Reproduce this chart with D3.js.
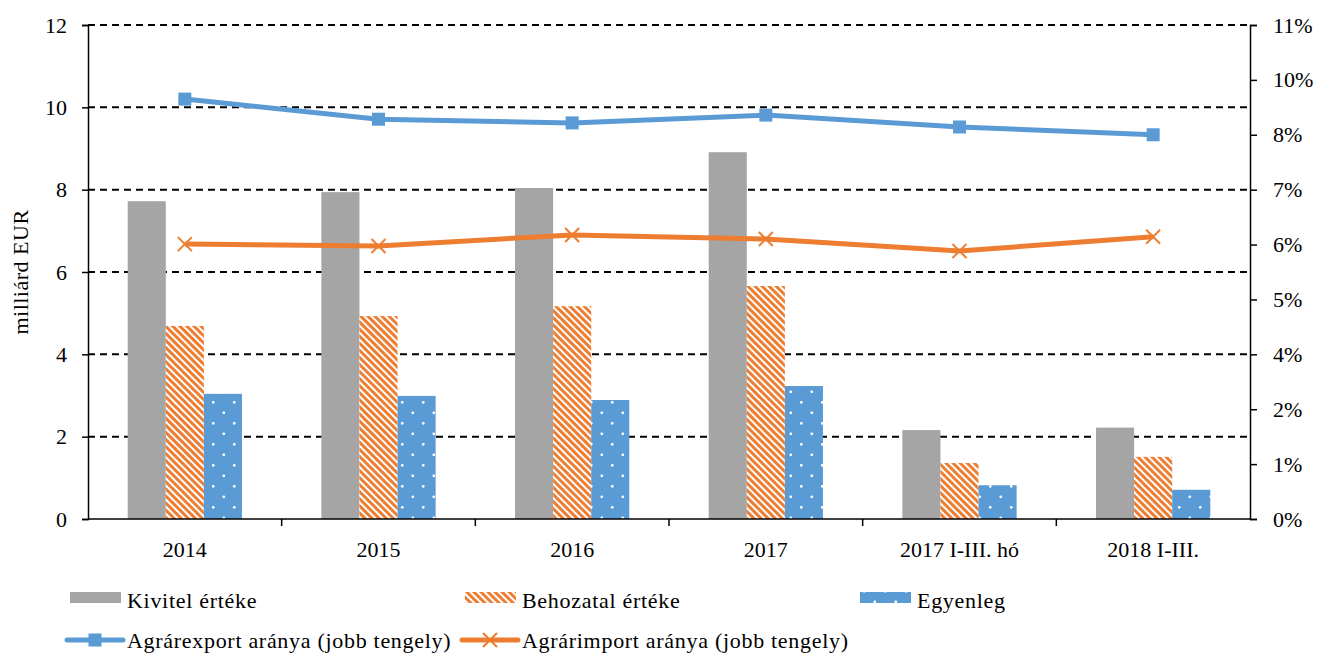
<!DOCTYPE html>
<html>
<head>
<meta charset="utf-8">
<script src="https://cdn.jsdelivr.net/npm/d3@7"></script>
<style>
  body { margin: 0; background: #fff; }
  svg text { font-family: "Liberation Serif", "Times New Roman", serif; fill: #000; }
</style>
</head>
<body>
<div id="chart"></div>
<script>
//data
let categories = ['2014', '2015', '2016', '2017', '2017 I-III. hó', '2018 I-III.'];
let kivitel = [7.72, 7.94, 8.04, 8.91, 2.16, 2.22];
let behozatal = [4.69, 4.93, 5.17, 5.66, 1.36, 1.51];
let egyenleg = [3.04, 2.99, 2.89, 3.23, 0.82, 0.71];
let exportShare = [0.0918, 0.0874, 0.0866, 0.0883, 0.0857, 0.0840];
let importShare = [0.0601, 0.0597, 0.0621, 0.0612, 0.0586, 0.0617];
let leftTicks = [0, 2, 4, 6, 8, 10, 12];
let rightTicks = [0, 0.012, 0.024, 0.036, 0.048, 0.060, 0.072, 0.084, 0.096, 0.108];

let barSeries = ['Kivitel értéke', 'Behozatal értéke', 'Egyenleg'];
let lineSeries = ['Agrárexport aránya (jobb tengely)', 'Agrárimport aránya (jobb tengely)'];

let w = 1317;
let h = 655;
let plotLeft = 88, plotRight = 1250, plotTop = 25, plotBottom = 519;
let fontSize = 22;

let gray = '#a5a5a5';
let orange = '#ed7d31';
let blue = '#5b9bd5';

let svg = d3.select('#chart').
append('svg').
attr('width', w).
attr('height', h);

//patterns
let defs = svg.append('defs');
let stripes = defs.append('pattern').
attr('id', 'stripes').
attr('patternUnits', 'userSpaceOnUse').
attr('width', 5).
attr('height', 5).
attr('patternTransform', 'rotate(-45)');
stripes.append('rect').attr('width', 5).attr('height', 5).attr('fill', '#fff');
stripes.append('rect').attr('width', 3).attr('height', 5).attr('fill', orange);

let dots = defs.append('pattern').
attr('id', 'dots').
attr('patternUnits', 'userSpaceOnUse').
attr('x', 3).
attr('y', 3).
attr('width', 21).
attr('height', 21);
dots.append('rect').attr('width', 21).attr('height', 21).attr('fill', blue);
[[0.3, 0.3], [21.3, 0.3], [0.3, 21.3], [21.3, 21.3], [10.8, 10.8]].forEach(p => {
  dots.append('circle').attr('cx', p[0]).attr('cy', p[1]).attr('r', 1.4).attr('fill', '#fff');
});

let fills = [gray, 'url(#stripes)', 'url(#dots)'];
let seriesValues = [kivitel, behozatal, egyenleg];

//scales
let xScale = d3.scaleBand().
domain(categories).
range([plotLeft, plotRight]).
paddingInner(0.41).
paddingOuter(0.205);

let xSub = d3.scaleBand().
domain(d3.range(barSeries.length)).
range([0, xScale.bandwidth()]);

let yLeft = d3.scaleLinear().
domain([0, 12]).
range([plotBottom, plotTop]);

let yRight = d3.scaleLinear().
domain([0, 0.108]).
range([plotBottom, plotTop]);

//gridlines
svg.append('g').
selectAll('line').
data(leftTicks.filter(d => d > 0)).
enter().
append('line').
attr('x1', plotLeft).
attr('x2', plotRight).
attr('y1', d => yLeft(d)).
attr('y2', d => yLeft(d)).
attr('stroke', '#000').
attr('stroke-width', 2).
attr('stroke-dasharray', '7,5');

//bars
seriesValues.forEach((vals, s) => {
  svg.append('g').
  selectAll('rect').
  data(vals).
  enter().
  append('rect').
  attr('x', (d, i) => xScale(categories[i]) + xSub(s)).
  attr('y', d => yLeft(d)).
  attr('width', xSub.bandwidth()).
  attr('height', d => plotBottom - yLeft(d)).
  attr('fill', fills[s]);
});

//left axis
let yAxisLeft = d3.axisLeft(yLeft).tickValues(leftTicks).tickSize(6).tickPadding(15);
let gl = svg.append('g').
attr('transform', 'translate(' + plotLeft + ',0)').
call(yAxisLeft);
gl.select('.domain').attr('stroke-width', 1.5);
gl.selectAll('.tick line').attr('stroke-width', 1.5);
gl.selectAll('text').style('font-size', fontSize + 'px').attr('fill', '#000');

//right axis
let yAxisRight = d3.axisRight(yRight).tickValues(rightTicks).tickSize(7).tickPadding(16).tickFormat(d3.format('.0%'));
let gr = svg.append('g').
attr('transform', 'translate(' + plotRight + ',0)').
call(yAxisRight);
gr.select('.domain').attr('stroke-width', 1.5);
gr.selectAll('.tick line').attr('stroke-width', 1.5);
gr.selectAll('text').style('font-size', fontSize + 'px').attr('fill', '#000');

//x axis: line with ticks between categories, labels centred
svg.append('line').
attr('x1', plotLeft).
attr('x2', plotRight).
attr('y1', plotBottom).
attr('y2', plotBottom).
attr('stroke', '#000').
attr('stroke-width', 1.5);

let step = xScale.step();
svg.append('g').
selectAll('line').
data(categories.slice(1)).
enter().
append('line').
attr('x1', d => xScale(d) - step * 0.205).
attr('x2', d => xScale(d) - step * 0.205).
attr('y1', plotBottom).
attr('y2', plotBottom + 7).
attr('stroke', '#000').
attr('stroke-width', 1.5);

svg.append('g').
selectAll('text').
data(categories).
enter().
append('text').
attr('x', d => xScale(d) + xScale.bandwidth() / 2).
attr('y', 557).
attr('text-anchor', 'middle').
style('font-size', fontSize + 'px').
text(d => d);

//y title
svg.append('text').
attr('transform', 'translate(28,272) rotate(-90)').
attr('text-anchor', 'middle').
style('font-size', fontSize + 'px').
style('letter-spacing', '0.5px').
text('milliárd EUR');

//lines
let lineData = [
  { vals: exportShare, color: blue, marker: 'square' },
  { vals: importShare, color: orange, marker: 'x' }
];

let lineGen = d3.line().
x((d, i) => xScale(categories[i]) + xScale.bandwidth() / 2).
y(d => yRight(d));

function drawMarker(sel, type, color) {
  if (type === 'square') {
    sel.append('rect').
    attr('x', -6.5).
    attr('y', -6.5).
    attr('width', 13).
    attr('height', 13).
    attr('fill', color);
  } else {
    sel.append('path').
    attr('d', 'M-7,-7L7,7M-7,7L7,-7').
    attr('stroke', color).
    attr('stroke-width', 2);
  }
}

lineData.forEach(ld => {
  svg.append('path').
  datum(ld.vals).
  attr('d', lineGen).
  attr('fill', 'none').
  attr('stroke', ld.color).
  attr('stroke-width', 5).
  attr('stroke-linejoin', 'round');

  let mg = svg.append('g').
  selectAll('g').
  data(ld.vals).
  enter().
  append('g').
  attr('transform', (d, i) => 'translate(' + (xScale(categories[i]) + xScale.bandwidth() / 2) + ',' + yRight(d) + ')');
  drawMarker(mg, ld.marker, ld.color);
});

//legend
let legendBars = [
  { x: 70, fill: gray },
  { x: 465, fill: 'url(#stripes)' },
  { x: 860, fill: 'url(#dots)' }
];
let lb = svg.append('g').
selectAll('g').
data(barSeries).
enter().
append('g');
lb.append('rect').
attr('x', (d, i) => legendBars[i].x).
attr('y', 592).
attr('width', 51).
attr('height', 11).
attr('fill', (d, i) => legendBars[i].fill);
lb.append('text').
attr('x', (d, i) => legendBars[i].x + 57).
attr('y', 608).
style('font-size', fontSize + 'px').
style('letter-spacing', '0.7px').
text(d => d);

let legendLines = [
  { x: 67, color: blue, marker: 'square' },
  { x: 462, color: orange, marker: 'x' }
];
lineSeries.forEach((name, i) => {
  let ll = legendLines[i];
  svg.append('line').
  attr('x1', ll.x).
  attr('x2', ll.x + 56).
  attr('y1', 640).
  attr('y2', 640).
  attr('stroke', ll.color).
  attr('stroke-width', 5).
  attr('stroke-linecap', 'round');
  let mg = svg.append('g').attr('transform', 'translate(' + (ll.x + 28) + ',640)');
  drawMarker(mg, ll.marker, ll.color);
  svg.append('text').
  attr('x', ll.x + 60).
  attr('y', 648).
  style('font-size', fontSize + 'px').
  style('letter-spacing', '0.7px').
  text(name);
});
</script>
</body>
</html>
